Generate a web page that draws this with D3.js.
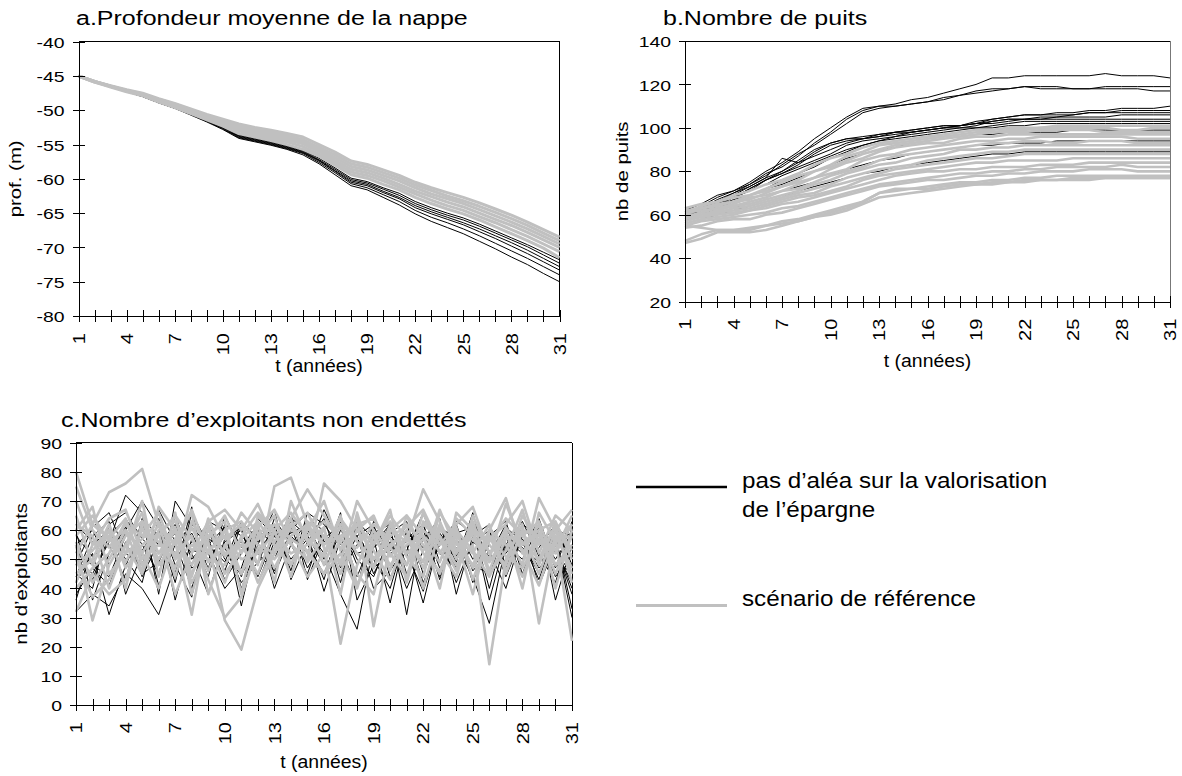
<!DOCTYPE html>
<html><head><meta charset="utf-8">
<script src="https://cdn.jsdelivr.net/npm/d3@7"></script>
<style>
body{margin:0;background:#fff}
svg text{font-family:"Liberation Sans",Arial,sans-serif;fill:#000}
</style></head>
<body><svg id="chart" width="1182" height="776"></svg>
<script>
// ---------- data ----------
const years = [1,2,3,4,5,6,7,8,9,10,11,12,13,14,15,16,17,18,19,20,21,22,23,24,25,26,27,28,29,30,31];
const xTickLabels = [1,4,7,10,13,16,19,22,25,28,31];
const yTicksA = [-40,-45,-50,-55,-60,-65,-70,-75,-80];
const yTicksB = [20,40,60,80,100,120,140];
const yTicksC = [0,10,20,30,40,50,60,70,80,90];

const titleA = "a.Profondeur moyenne de la nappe";
const titleB = "b.Nombre de puits";
const titleC = "c.Nombre d\u2019exploitants non endett\u00e9s";
const yLabelA = "prof. (m)";
const yLabelB = "nb de puits";
const yLabelC = "nb d\u2019exploitants";
const xLabel = "t (ann\u00e9es)";
const legendBlack = ["pas d\u2019al\u00e9a sur la valorisation", "de l\u2019\u00e9pargne"];
const legendGray = "sc\u00e9nario de r\u00e9f\u00e9rence";

// a. depth, black = no hazard on savings valuation
const depthBlack = [
 [-45.0,-45.9,-46.6,-47.3,-47.9,-48.8,-49.6,-50.5,-51.4,-52.4,-53.6,-54.1,-54.6,-55.2,-55.9,-57.0,-58.4,-59.9,-60.4,-61.3,-62.1,-63.3,-64.2,-65.0,-65.7,-66.6,-67.6,-68.6,-69.6,-70.7,-71.8],
 [-45.0,-45.9,-46.6,-47.3,-47.9,-48.8,-49.6,-50.5,-51.5,-52.5,-53.7,-54.2,-54.7,-55.3,-56.0,-57.2,-58.6,-60.1,-60.6,-61.5,-62.4,-63.6,-64.5,-65.3,-66.0,-66.9,-67.9,-68.9,-69.9,-71.1,-72.3],
 [-45.0,-45.9,-46.6,-47.3,-47.9,-48.8,-49.6,-50.6,-51.5,-52.5,-53.8,-54.3,-54.8,-55.4,-56.1,-57.3,-58.8,-60.3,-60.8,-61.8,-62.7,-63.9,-64.8,-65.6,-66.4,-67.3,-68.3,-69.3,-70.4,-71.6,-72.8],
 [-45.0,-45.9,-46.6,-47.3,-48.0,-48.9,-49.7,-50.6,-51.6,-52.6,-53.9,-54.4,-54.9,-55.5,-56.2,-57.4,-58.9,-60.5,-61.0,-62.0,-62.9,-64.2,-65.1,-65.9,-66.7,-67.7,-68.7,-69.8,-70.9,-72.1,-73.3],
 [-45.0,-45.9,-46.6,-47.3,-48.0,-48.9,-49.7,-50.6,-51.6,-52.7,-54.0,-54.5,-55.0,-55.6,-56.3,-57.6,-59.1,-60.7,-61.3,-62.3,-63.3,-64.6,-65.6,-66.4,-67.3,-68.3,-69.4,-70.5,-71.6,-72.8,-74.0],
 [-45.0,-45.9,-46.6,-47.3,-48.0,-48.9,-49.7,-50.7,-51.7,-52.8,-54.1,-54.6,-55.1,-55.7,-56.5,-57.8,-59.4,-61.0,-61.6,-62.7,-63.8,-65.1,-66.2,-67.1,-68.0,-69.1,-70.2,-71.4,-72.5,-73.8,-75.0]
];
// a. depth, gray = reference scenario
const depthGray = [
 [-45.0,-45.8,-46.4,-47.0,-47.5,-48.3,-49.0,-49.8,-50.6,-51.3,-52.0,-52.5,-52.9,-53.4,-53.9,-55.0,-56.1,-57.4,-57.9,-58.7,-59.5,-60.5,-61.3,-62.0,-62.7,-63.5,-64.4,-65.3,-66.3,-67.4,-68.5],
 [-45.0,-45.8,-46.5,-47.1,-47.6,-48.4,-49.1,-49.9,-50.8,-51.5,-52.3,-52.8,-53.2,-53.7,-54.3,-55.4,-56.5,-57.8,-58.3,-59.1,-59.9,-60.9,-61.7,-62.5,-63.2,-64.0,-64.9,-65.8,-66.8,-67.9,-69.0],
 [-45.0,-45.8,-46.5,-47.1,-47.7,-48.5,-49.2,-50.0,-50.9,-51.7,-52.5,-53.0,-53.5,-54.0,-54.6,-55.7,-56.9,-58.2,-58.7,-59.5,-60.3,-61.3,-62.2,-62.9,-63.6,-64.5,-65.4,-66.3,-67.3,-68.4,-69.5],
 [-45.0,-45.8,-46.5,-47.2,-47.7,-48.6,-49.3,-50.2,-51.0,-51.8,-52.7,-53.3,-53.8,-54.3,-54.9,-56.0,-57.3,-58.6,-59.1,-59.9,-60.8,-61.8,-62.6,-63.4,-64.1,-65.0,-65.9,-66.8,-67.8,-68.9,-70.0],
 [-45.0,-45.9,-46.5,-47.2,-47.8,-48.7,-49.4,-50.3,-51.2,-52.0,-53.0,-53.6,-54.1,-54.6,-55.3,-56.4,-57.6,-59.0,-59.5,-60.3,-61.2,-62.2,-63.1,-63.9,-64.6,-65.5,-66.4,-67.4,-68.4,-69.5,-70.6],
 [-45.0,-45.9,-46.6,-47.3,-47.9,-48.8,-49.6,-50.5,-51.4,-52.3,-53.4,-53.9,-54.4,-55.0,-55.7,-56.7,-58.0,-59.4,-59.9,-60.8,-61.6,-62.7,-63.6,-64.4,-65.1,-66.0,-67.0,-68.0,-69.0,-70.1,-71.5]
];
// b. wells
const wellsBlack = [
 [61,64,68,71,75,80,84,89,95,100,105,109,110,111,113,114,116,118,120,123,123,124,124,124,124,124,125,124,124,124,123],
 [62,65,69,71,74,79,82,87,93,98,104,108,110,110,111,112,114,115,117,118,118,119,119,119,118,118,119,119,119,119,119],
 [60,63,67,70,74,78,83,88,92,97,102,107,109,110,111,112,113,115,116,117,118,119,118,118,118,118,118,118,118,117,117],
 [59,62,66,70,73,77,86,84,89,93,95,96,97,98,98,99,100,101,102,104,105,106,106,107,107,108,108,109,109,109,110],
 [58,61,65,68,72,76,79,83,88,92,94,95,96,98,99,100,101,101,103,104,105,106,106,106,106,107,107,108,108,108,108],
 [60,62,66,69,73,77,80,85,90,93,95,95,96,97,98,99,100,100,101,103,104,104,105,105,106,107,107,107,107,107,107],
 [57,61,64,68,71,76,79,82,85,88,92,94,95,96,98,99,100,101,102,103,104,104,104,105,105,105,105,106,106,106,106],
 [59,61,65,68,72,76,80,84,87,90,93,95,97,98,99,100,101,101,102,102,103,104,104,104,104,104,104,104,104,104,104],
 [60,63,66,68,71,74,78,81,84,87,90,92,94,96,97,98,99,100,100,101,102,103,103,103,103,103,103,103,103,103,103],
 [58,60,63,66,69,72,76,79,82,86,89,92,94,95,96,97,98,99,100,100,101,101,102,102,102,102,102,102,102,102,102],
 [61,62,64,67,69,72,74,77,80,83,86,88,90,91,93,94,95,96,97,97,98,98,98,98,99,99,99,99,99,99,99],
 [57,59,61,63,66,68,71,73,75,78,81,83,85,86,88,89,90,91,92,92,93,93,93,94,94,94,94,94,94,94,94],
 [56,58,60,62,64,66,68,71,73,75,77,79,80,82,83,84,85,86,87,88,88,89,89,89,89,89,89,89,89,89,89]
];
const wellsGray = [
 [63,65,66,69,71,74,76,79,83,86,88,91,93,94,95,96,97,98,99,99,100,100,100,101,101,101,101,101,101,101,101],
 [61,64,66,68,69,72,75,78,80,83,87,89,92,93,94,95,96,97,98,98,99,99,100,100,100,100,100,99,99,100,100],
 [62,63,65,66,69,71,73,76,80,82,85,88,90,92,93,94,95,96,97,98,98,98,99,99,99,99,98,98,98,98,98],
 [60,63,64,66,67,70,73,75,77,81,84,86,89,91,92,93,93,95,96,96,97,97,97,97,97,97,97,97,97,97,97],
 [61,62,63,65,68,69,71,74,77,79,81,85,87,88,90,91,92,93,94,94,95,95,96,96,96,96,96,96,95,95,95],
 [59,61,63,64,66,68,71,72,75,78,80,82,85,87,88,89,90,91,92,93,93,94,94,93,93,94,94,94,93,93,93],
 [60,60,62,64,65,67,69,71,74,76,79,81,83,84,86,87,88,90,90,91,91,92,92,92,92,92,92,92,92,92,92],
 [58,60,61,63,64,66,68,70,72,74,77,79,81,82,83,85,86,87,88,89,89,90,90,90,90,90,90,90,90,90,90],
 [59,59,61,62,63,65,67,69,70,73,75,77,79,81,82,83,84,85,86,86,87,88,88,88,88,88,88,88,88,88,88],
 [57,59,60,61,62,64,66,68,69,71,73,76,78,79,80,81,82,83,84,84,85,85,85,85,86,86,86,86,86,86,86],
 [56,58,59,60,62,63,65,66,68,70,72,74,76,78,79,80,80,81,81,82,82,82,83,83,83,84,84,84,84,84,84],
 [55,57,58,59,60,61,63,64,66,68,70,72,74,75,76,77,78,79,79,80,80,81,81,82,82,82,82,83,82,82,82],
 [54,55,57,58,58,60,61,63,65,67,69,71,73,74,75,76,76,77,78,78,79,79,80,80,80,81,81,81,80,80,80],
 [55,54,53,53,53,55,57,58,60,62,64,66,70,72,72,73,74,75,75,76,76,77,77,78,78,78,78,78,78,78,78],
 [48,51,53,53,54,55,56,57,59,61,63,66,70,71,72,72,73,74,74,75,75,76,76,76,77,77,77,77,77,77,77],
 [47,49,52,52,52,53,55,57,59,60,62,65,68,69,70,71,72,73,74,74,75,75,76,76,76,76,77,77,77,77,77]
];
// c. farmers without debt
const farmersBlack = [
 [42,52,31,48,60,55,62,47,50,58,44,60,55,63,58,48,52,61,45,56,40,53,61,57,48,45,60,54,49,58,33],
 [50,45,56,72,66,38,70,61,55,49,63,57,62,46,66,56,61,44,58,51,62,47,56,63,59,52,47,62,58,44,52],
 [32,38,34,45,40,31,48,37,63,60,34,58,50,64,60,52,38,26,55,62,31,62,47,54,44,28,55,63,51,57,30],
 [55,60,48,59,53,62,36,57,44,65,54,62,45,58,52,67,55,62,50,40,59,54,61,49,66,44,55,50,61,47,63],
 [45,40,62,66,57,52,59,45,60,52,56,48,64,55,63,60,45,55,61,53,57,62,43,59,61,40,61,56,45,62,45],
 [58,51,55,43,64,58,45,68,38,56,60,44,58,61,47,57,62,48,59,62,48,58,52,47,55,60,44,58,63,36,55],
 [38,47,41,56,45,49,61,53,52,40,47,64,58,52,55,45,60,58,40,46,55,35,58,42,56,51,62,47,54,62,48],
 [62,56,50,60,70,61,52,59,47,62,58,52,46,60,66,62,54,40,63,57,44,60,56,61,50,57,52,60,41,55,40],
 [48,61,66,52,48,67,56,40,60,46,62,56,61,48,59,39,57,52,54,59,63,45,59,51,63,49,58,44,59,50,59],
 [54,43,58,64,55,45,65,50,57,54,42,49,54,66,43,58,49,60,47,52,56,60,44,56,47,55,49,57,47,53,42],
 [44,58,63,38,52,60,42,66,55,61,40,55,67,43,56,64,47,58,62,44,53,66,49,60,42,58,63,45,60,55,38],
 [60,36,52,61,44,56,59,52,38,57,61,42,56,59,62,50,66,36,48,63,45,57,64,38,58,62,48,56,43,60,58],
 [52,48,44,58,63,41,55,62,57,43,52,61,40,55,45,61,42,63,57,35,60,42,55,62,46,53,40,59,52,42,61],
 [36,55,60,50,42,64,48,56,62,50,45,53,60,50,57,43,63,50,44,58,52,39,57,47,61,36,57,52,64,48,46]
];
const farmersGray = [
 [80,62,73,76,81,62,55,67,52,60,45,58,65,48,60,70,53,64,50,58,61,67,55,62,68,52,59,48,71,60,67],
 [75,60,54,62,58,66,50,72,68,57,62,48,75,78,62,55,61,52,47,60,56,74,63,50,59,57,62,70,52,65,60],
 [55,29,48,58,63,52,61,45,56,29,19,40,52,61,66,54,21,48,60,52,44,63,58,48,55,14,50,62,28,57,22],
 [45,50,62,47,55,59,38,52,63,67,60,69,56,64,74,65,56,45,38,60,65,52,46,60,53,44,57,58,63,48,55],
 [50,37,43,55,66,48,56,31,62,45,53,57,62,55,50,76,70,60,53,43,58,49,67,53,61,55,48,65,56,52,62],
 [70,55,58,49,60,56,47,61,49,54,66,59,47,58,62,48,62,57,58,63,52,57,49,64,58,50,69,55,60,63,50],
 [62,58,40,55,45,60,63,53,58,63,38,65,59,52,55,60,45,65,27,55,60,40,60,56,48,60,55,44,59,45,58],
 [40,47,52,63,50,55,52,58,43,30,37,54,50,57,53,45,52,40,58,48,55,58,53,44,63,46,61,53,41,58,47],
 [58,65,56,60,52,40,57,48,60,52,55,45,60,66,58,63,57,54,62,57,48,60,55,58,52,62,45,60,58,53,65],
 [48,53,60,52,57,63,50,55,50,48,57,63,55,48,61,55,58,62,55,65,57,53,61,55,57,49,58,56,50,62,53],
 [32,45,38,43,61,50,60,42,53,58,50,52,59,60,57,51,64,56,50,54,62,55,45,59,47,58,51,47,57,48,52],
 [52,62,57,64,48,58,65,57,46,60,63,55,52,64,49,58,48,60,65,51,58,47,62,52,60,56,64,58,55,59,57],
 [60,68,45,52,70,44,66,38,57,65,52,62,42,70,56,61,38,66,47,62,51,44,66,57,38,60,71,52,62,40,60],
 [42,55,64,67,52,62,44,63,55,42,58,66,60,44,63,58,49,70,60,46,65,58,40,66,60,45,53,67,48,62,42],
 [65,48,60,40,63,52,57,66,38,55,45,61,67,56,44,52,65,41,55,67,42,62,57,46,65,52,60,40,66,56,62],
 [56,42,50,60,46,68,60,44,64,51,57,42,54,62,52,45,57,62,64,54,48,66,52,61,43,58,46,60,45,60,45]
];

// ---------- drawing ----------
const svg = d3.select("#chart");
const GRAY = "#c0c0c0";
const STRETCH = 1.25;   // the reference's text is horizontally wide

function panel(cfg){
  const x = d3.scaleLinear().domain([years[0], years[years.length-1]]).range([cfg.x0, cfg.x1]);
  const y = d3.scaleLinear().domain(cfg.yDomain).range([cfg.yBottom, cfg.yTop]);
  const g = svg.append("g");

  // frame (top + right)
  g.append("line").attr("x1",cfg.x0).attr("x2",cfg.x1).attr("y1",cfg.yTop).attr("y2",cfg.yTop)
    .attr("stroke","#000").attr("stroke-width",1).attr("shape-rendering","crispEdges");
  g.append("line").attr("x1",cfg.x1).attr("x2",cfg.x1).attr("y1",cfg.yTop).attr("y2",cfg.yBottom)
    .attr("stroke",cfg.rightColor||"#000").attr("stroke-width",1).attr("shape-rendering","crispEdges");

  const line = d3.line().x((d,i)=>x(years[i])).y(d=>y(d));
  g.append("g").selectAll("path").data(cfg.black).join("path")
    .attr("d",line).attr("fill","none").attr("stroke","#000").attr("stroke-width",1)
    .attr("stroke-linejoin","round");
  g.append("g").selectAll("path").data(cfg.gray).join("path")
    .attr("d",line).attr("fill","none").attr("stroke",GRAY).attr("stroke-width",cfg.grayWidth||2.6)
    .attr("stroke-linejoin","round");

  // y axis
  const ya = g.append("g").attr("transform",`translate(${cfg.x0},0)`)
    .call(d3.axisLeft(y).tickValues(cfg.yTicks).tickSizeOuter(0).tickSize(6).tickFormat(d3.format("d")));
  ya.select(".domain").attr("stroke","#000").attr("shape-rendering","crispEdges");
  ya.selectAll(".tick line").attr("x1",-6).attr("x2",6).attr("stroke","#000").attr("shape-rendering","crispEdges");
  ya.selectAll(".tick text").attr("x",null).attr("dy","0.36em")
    .attr("font-size",15.5).attr("text-anchor","end")
    .attr("transform",`translate(-14,0) scale(${STRETCH},1)`)
    .text(d=>String(d));

  // x axis
  const xa = g.append("g").attr("transform",`translate(0,${cfg.yBottom})`)
    .call(d3.axisBottom(x).tickValues(years).tickSizeOuter(0).tickSize(6)
      .tickFormat(d=> xTickLabels.includes(d) ? String(d) : ""));
  xa.select(".domain").attr("stroke","#000").attr("shape-rendering","crispEdges");
  xa.selectAll(".tick line").attr("y1",-6).attr("y2",6).attr("stroke","#000").attr("shape-rendering","crispEdges");
  xa.selectAll(".tick text").attr("y",null).attr("dy","0.36em")
    .attr("font-size",16).attr("text-anchor","end")
    .attr("transform",`translate(0,17) rotate(-90) scale(${STRETCH},1)`);
  [ya,xa].forEach(a=>a.attr("font-family",null).attr("font-size",null));

  // titles
  g.append("text").attr("font-size",20)
    .attr("transform",`translate(${cfg.titleX},${cfg.titleY}) scale(${STRETCH},1)`).text(cfg.title);
  g.append("text").attr("text-anchor","middle").attr("font-size",18.5)
    .attr("transform",`translate(${(cfg.x0+cfg.x1)/2},${cfg.xLabelY}) scale(1.05,1)`).text(xLabel);
  g.append("text").attr("text-anchor","middle").attr("font-size",17)
    .attr("transform",`translate(${cfg.yLabelX},${(cfg.yTop+cfg.yBottom)/2}) rotate(-90) scale(1.2,1)`).text(cfg.yLabel);
}

panel({x0:78.5,x1:559.5,yTop:41.7,yBottom:316,yDomain:[-80,-40],yTicks:yTicksA,
  black:depthBlack,gray:depthGray,title:titleA,titleX:76,titleY:25,xLabelY:372,yLabel:yLabelA,yLabelX:21,grayWidth:3});
panel({x0:685,x1:1170,yTop:41,yBottom:301.7,yDomain:[20,140],yTicks:yTicksB,rightColor:"#777",
  black:wellsBlack,gray:wellsGray,title:titleB,titleX:663,titleY:25,xLabelY:367,yLabel:yLabelB,yLabelX:628});
panel({x0:76,x1:572,yTop:442.7,yBottom:705,yDomain:[0,90],yTicks:yTicksC,
  black:farmersBlack,gray:farmersGray,title:titleC,titleX:61,titleY:427,xLabelY:768,yLabel:yLabelC,yLabelX:27});

// legend
const lg = svg.append("g");
lg.append("line").attr("x1",636).attr("x2",727).attr("y1",487).attr("y2",487).attr("stroke","#000").attr("stroke-width",2.5);
lg.append("line").attr("x1",636).attr("x2",727).attr("y1",605.5).attr("y2",605.5).attr("stroke",GRAY).attr("stroke-width",3);
lg.selectAll("text.lb").data(legendBlack).join("text").attr("class","lb")
  .attr("font-size",22).attr("transform",(d,i)=>`translate(742,${488+i*29}) scale(1.1,1)`).text(d=>d);
lg.append("text").attr("font-size",22).attr("transform","translate(742,606) scale(1.1,1)").text(legendGray);
</script></body></html>
